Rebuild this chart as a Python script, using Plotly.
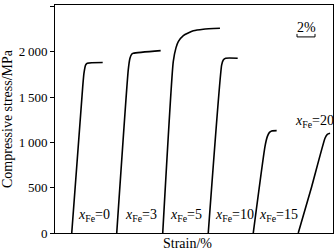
import plotly.graph_objects as go

# Data (strain offset in %, stress in MPa)
strain_0 = [1.86, 3.08, 3.22, 3.41, 3.59, 5.30]
stress_0 = [0, 1615, 1763, 1854, 1873, 1880]
strain_3 = [6.86, 8.14, 8.33, 8.52, 8.70, 11.74]
stress_3 = [0, 1799, 1928, 1972, 1983, 2012]
strain_5 = [11.97, 13.14, 13.44, 13.70, 14.26, 15.37, 16.48, 18.33]
stress_5 = [0, 1891, 2042, 2111, 2178, 2230, 2248, 2259]
strain_10 = [17.03, 18.52, 18.70, 18.97, 20.30]
stress_10 = [0, 1854, 1909, 1928, 1928]
strain_15 = [22.03, 23.33, 23.59, 23.81, 24.08, 24.63]
stress_15 = [0, 953, 1063, 1107, 1126, 1129]
strain_20 = [27.03, 28.52, 30.00, 30.26, 30.56]
stress_20 = [0, 511, 1045, 1089, 1100]

fe_labels = ["0", "3", "5", "10", "15", "20"]
label_x = [2.33, 7.56, 12.56, 17.56, 22.44, 26.44]
label_y = [188, 188, 188, 188, 188, 1228]

y_ticks = [0, 500, 1000, 1500, 2000, 2500]
y_ticktext = ["0", "500", "1\u2009000", "1\u2009500", "2\u2009000", "2\u2009500"]

curves = [(strain_0, stress_0), (strain_3, stress_3), (strain_5, stress_5),
          (strain_10, stress_10), (strain_15, stress_15), (strain_20, stress_20)]

FONT = "Liberation Serif"
fig = go.Figure()
for sx, sy in curves:
    fig.add_trace(go.Scatter(x=sx, y=sy, mode="lines",
                             line=dict(color="black", width=1.6, shape="spline", smoothing=0.5),
                             showlegend=False, hoverinfo="skip"))

for lab, lx, ly in zip(fe_labels, label_x, label_y):
    fig.add_annotation(x=lx, y=ly, xref="x", yref="y", xanchor="left", yanchor="middle",
                       text=f"<i>x</i><sub>Fe</sub>=" + lab, showarrow=False,
                       font=dict(family=FONT, size=14, color="black"))

# scale bar 2%
sb_x0, sb_x1 = 26.89, 28.89
fig.add_shape(type="path", xref="x", yref="y",
              path=f"M {sb_x0},2196 L {sb_x0},2163 L {sb_x1},2163 L {sb_x1},2196",
              line=dict(color="black", width=1))
fig.add_annotation(x=(sb_x0 + sb_x1) / 2, y=2263, xref="x", yref="y", text="2%",
                   showarrow=False, font=dict(family=FONT, size=14, color="black"))

fig.add_annotation(x=-0.173, y=0.504, xref="paper", yref="paper", text="Compressive stress/MPa",
                   textangle=-90, showarrow=False, xanchor="center", yanchor="middle",
                   font=dict(family=FONT, size=14, color="black"))
fig.add_annotation(x=0.477, y=-0.044, xref="paper", yref="paper", text="Strain/%",
                   showarrow=False, xanchor="center", yanchor="middle",
                   font=dict(family=FONT, size=14, color="black"))

fig.update_layout(width=334, height=250, margin=dict(l=55, r=1, t=5, b=17),
                  paper_bgcolor="white", plot_bgcolor="white",
                  font=dict(family=FONT, size=13, color="black"))
fig.update_xaxes(range=[0, 30.89], showticklabels=False, ticks="", showgrid=False, zeroline=False,
                 showline=True, mirror=True, linecolor="black", linewidth=1)
fig.update_yaxes(range=[0, 2515], tickvals=y_ticks, ticktext=y_ticktext, ticks="outside", ticklen=4,
                 tickcolor="black", showgrid=False, zeroline=False, showline=True, mirror=True,
                 linecolor="black", linewidth=1, tickfont=dict(family=FONT, size=13, color="black"))

fig.write_html("out.html")
